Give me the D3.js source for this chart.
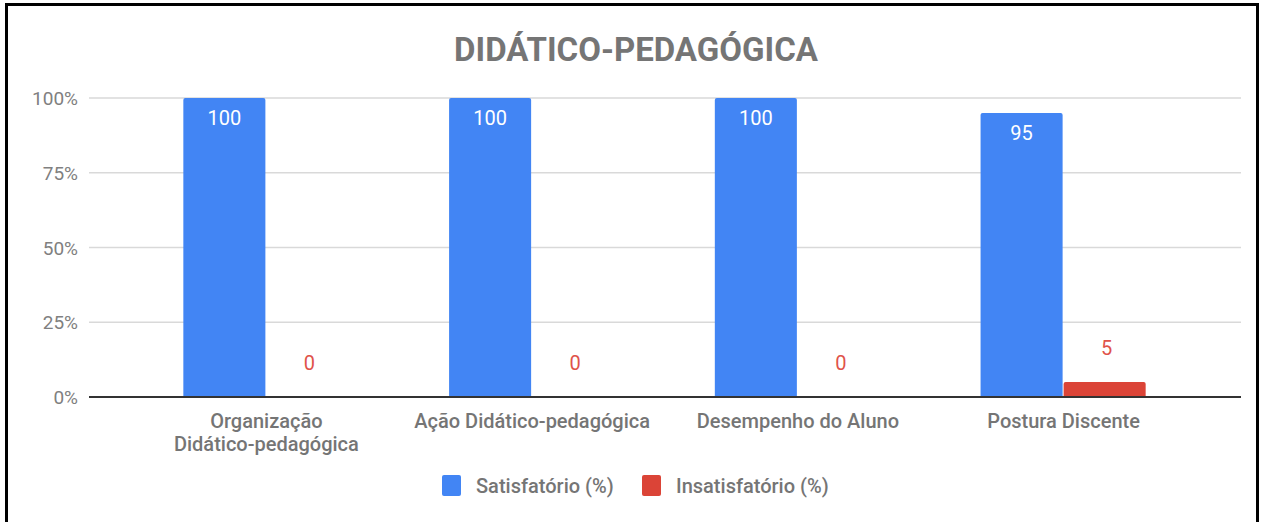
<!DOCTYPE html>
<html>
<head>
<meta charset="utf-8">
<script src="https://cdn.jsdelivr.net/npm/d3@7"></script>
<style>
  body { margin: 0; background: #fff; }
  svg { display: block; font-family: Roboto, "Noto Sans", sans-serif; }
</style>
</head>
<body>
<script>
const categories = [
  ["Organização", "Didático-pedagógica"],
  ["Ação Didático-pedagógica"],
  ["Desempenho do Aluno"],
  ["Postura Discente"]
];
const seriesNames = ["Satisfatório (%)", "Insatisfatório (%)"];
const satisfatorio = [100, 100, 100, 95];
const insatisfatorio = [0, 0, 0, 5];
const yTicks = [0, 25, 50, 75, 100];
const colors = ["#4285f4", "#db4437"];

const width = 1264, height = 522;
const svg = d3.select("body").append("svg").attr("width", width).attr("height", height);

// frame
svg.append("rect").attr("x", 6.5).attr("y", 4.5).attr("width", 1251).attr("height", 530)
  .attr("fill", "none").attr("stroke", "#000").attr("stroke-width", 3);

svg.append("text")
  .attr("x", 636).attr("y", 61)
  .attr("text-anchor", "middle")
  .attr("font-size", 33).attr("font-weight", 700)
  .attr("fill", "#757575")
  .text("DIDÁTICO-PEDAGÓGICA");

const plotLeft = 89, plotRight = 1241, plotTop = 98, plotBottom = 397;
const x = d3.scaleBand().domain(d3.range(categories.length))
  .range([plotLeft, plotRight]).paddingInner(0.375).paddingOuter(0.355);
const x1 = d3.scaleBand().domain([0, 1]).range([0, x.bandwidth()]);
const y = d3.scaleLinear().domain([0, 100]).range([plotBottom, plotTop]);

// grid
svg.append("g").selectAll("line").data(yTicks.filter(d => d > 0)).join("line")
  .attr("x1", plotLeft).attr("x2", plotRight)
  .attr("y1", d => y(d)).attr("y2", d => y(d))
  .attr("stroke", "#d9d9d9").attr("stroke-width", 1.5);

svg.append("g").selectAll("text").data(yTicks).join("text")
  .attr("x", 78).attr("y", d => y(d) + 7)
  .attr("text-anchor", "end")
  .attr("font-size", 19).attr("fill", "#808080")
  .text(d => d + "%");

const values = [satisfatorio, insatisfatorio];
const groups = svg.append("g").selectAll("g").data(categories).join("g")
  .attr("transform", (d, i) => `translate(${x(i)},0)`);

groups.each(function (c, i) {
  const g = d3.select(this);
  values.forEach((vals, s) => {
    const v = vals[i];
    const bx = x1(s), bw = x1.bandwidth() - 1;
    if (v > 0) {
      const r = 2, yt = y(v), yb = y(0);
      g.append("path")
        .attr("d", `M${bx},${yb}V${yt + r}Q${bx},${yt} ${bx + r},${yt}H${bx + bw - r}Q${bx + bw},${yt} ${bx + bw},${yt + r}V${yb}Z`)
        .attr("fill", colors[s]);
    }
    const inside = v > 20;
    g.append("text")
      .attr("x", bx + bw / 2 + (inside ? 0 : 2))
      .attr("y", inside ? y(v) + 27 : y(v) - 27)
      .attr("text-anchor", "middle")
      .attr("font-size", 20)
      .attr("fill", inside ? "#fff" : "#e0534a")
      .text(v);
  });
  g.append("text")
    .attr("x", x.bandwidth() / 2)
    .attr("y", 428)
    .attr("text-anchor", "middle")
    .attr("font-size", 20).attr("font-weight", 500)
    .attr("fill", "#757575")
    .selectAll("tspan").data(c).join("tspan")
    .attr("x", x.bandwidth() / 2)
    .attr("dy", (d, k) => k === 0 ? 0 : 23)
    .text(d => d);
});

// baseline
svg.append("line").attr("x1", plotLeft).attr("x2", plotRight)
  .attr("y1", y(0)).attr("y2", y(0))
  .attr("stroke", "#333").attr("stroke-width", 2);

// legend
const legendX = [442, 642];
const lg = svg.append("g").selectAll("g").data(seriesNames).join("g")
  .attr("transform", (d, i) => `translate(${legendX[i]},475)`);
lg.append("rect").attr("width", 19).attr("height", 21).attr("rx", 2)
  .attr("fill", (d, i) => colors[i]);
lg.append("text").attr("x", 34).attr("y", 18)
  .attr("font-size", 20).attr("font-weight", 500).attr("fill", "#757575")
  .text(d => d);
</script>
</body>
</html>
